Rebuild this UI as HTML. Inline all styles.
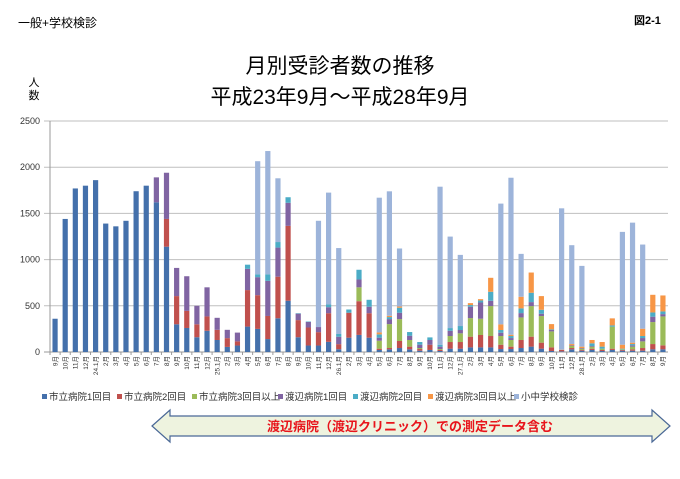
<!DOCTYPE html>
<html><head><meta charset="utf-8"><style>
body{margin:0;background:#fff;font-family:"Liberation Sans","Noto Sans CJK JP",sans-serif;}
svg text{font-family:"Liberation Sans","Noto Sans CJK JP",sans-serif;}
</style></head><body>
<svg id="chart" width="680" height="474" viewBox="0 0 680 474" xmlns="http://www.w3.org/2000/svg">
<text x="18" y="27" font-size="12">一般+学校検診</text>
<text x="634" y="24" font-size="11" font-weight="bold">図2-1</text>
<text x="340" y="73" font-size="21" text-anchor="middle">月別受診者数の推移</text>
<text x="340" y="104" font-size="21" text-anchor="middle">平成23年9月～平成28年9月</text>
<text x="34" y="86" font-size="11" text-anchor="middle">人</text>
<text x="34" y="99" font-size="11" text-anchor="middle">数</text>
<g id="grid"></g><g id="bars"></g><g id="xlabels"></g>
<g id="legend"></g>
<g>
<polygon points="152,426 170,410 170,416 652,416 652,410 670,426 652,442 652,436 170,436 170,442" fill="#eef3df" stroke="#4a6896" stroke-width="1.2"/>
<text x="410" y="431" font-size="13" font-weight="bold" fill="#e8141b" text-anchor="middle">渡辺病院（渡辺クリニック）での測定データ含む</text>
</g>
</svg>
<script>
const categories=["9月","10月","11月","12月","H24.1月","2月","3月","4月","5月","6月","7月","8月","9月","10月","11月","12月","H25.1月","2月","3月","4月","5月","6月","7月","8月","9月","10月","11月","12月","H26.1月","2月","3月","4月","5月","6月","7月","8月","9月","10月","11月","12月","H27.1月","2月","3月","4月","5月","6月","7月","8月","9月","10月","11月","12月","H28.1月","2月","3月","4月","5月","6月","7月","8月","9月"];
const s1=[360,1440,1770,1800,1860,1390,1360,1420,1740,1800,1620,1140,300,260,160,230,130,55,70,275,250,140,365,555,160,70,70,110,30,155,185,155,22,29,43,29,14,22,11,36,36,50,50,50,32,32,43,58,36,11,7,29,14,22,11,22,14,14,14,29,29];
const s2=[0,0,0,0,0,0,0,0,0,0,0,300,305,185,140,155,110,95,45,395,365,250,450,810,185,195,145,310,55,270,365,265,14,14,76,29,18,57,11,72,72,116,134,123,47,26,87,108,65,39,15,14,8,14,11,14,8,15,29,57,43];
const s3=[0,0,0,0,0,0,0,0,0,0,0,0,0,0,0,0,0,0,0,0,0,0,0,0,0,0,0,0,0,0,150,0,86,259,237,72,11,0,10,65,94,201,176,324,94,72,244,331,288,173,0,22,14,22,14,238,7,29,72,238,313];
const s4=[0,0,0,0,0,0,0,0,0,0,270,500,305,375,200,315,130,90,95,230,195,380,315,250,70,60,55,65,80,0,85,70,33,54,69,46,36,51,26,57,36,123,176,57,36,21,47,43,25,15,0,7,7,7,0,0,0,14,36,58,25];
const s5=[0,0,0,0,0,0,0,0,0,0,0,0,0,0,0,0,0,0,0,45,30,70,60,60,5,5,0,30,30,35,105,75,36,22,54,40,29,28,21,29,43,18,22,98,29,22,51,101,43,7,0,0,0,29,22,14,7,14,22,46,29];
const s6=[0,0,0,0,0,0,0,0,0,0,0,0,0,0,0,0,0,0,0,0,0,0,0,0,0,0,0,0,0,0,0,0,21,14,14,0,0,0,0,0,0,21,14,151,61,14,126,219,148,57,3,14,15,36,50,76,43,15,79,191,173];
const s7=[0,0,0,0,0,0,0,0,0,0,0,0,0,0,0,0,0,0,0,0,1225,1335,690,0,0,0,1150,1210,930,0,0,0,1458,1347,627,0,0,0,1710,990,770,0,0,0,1307,1699,464,0,0,0,1530,1070,874,0,0,0,1221,1299,911,0,0];
const seriesNames=["市立病院1回目","市立病院2回目","市立病院3回目以上","渡辺病院1回目","渡辺病院2回目","渡辺病院3回目以上","小中学校検診"];
const yTicks=[0,500,1000,1500,2000,2500];
const colors=["#4470ab","#c0504d","#9bbb59","#8064a2","#4bacc6","#f79646","#9db4da"];
const series=[s1,s2,s3,s4,s5,s6,s7];
const NS="http://www.w3.org/2000/svg";
const L=50,R=668,T=121,B=352,yMax=2500;
const bw=(R-L)/categories.length;
function y(v){return B-(v/yMax)*(B-T);}
function x(i){return L+bw*(i+0.5);}
function mk(t,a,p){const e=document.createElementNS(NS,t);for(const k in a)e.setAttribute(k,a[k]);p.appendChild(e);return e;}
const grid=document.getElementById('grid');
yTicks.forEach(v=>{
 const l=mk('line',{x1:44,x2:R,y1:y(v),y2:y(v),stroke:v===0?'#999':'#bfbfbf','stroke-width':1},grid);
 
 
 const t=mk('text',{x:40,y:y(v)+3,'font-size':9,'text-anchor':'end',fill:'#333'},grid);
 t.textContent=v;
 
 
});
const ax=mk('line',{x1:L,x2:L,y1:T,y2:B,stroke:'#999'},grid);


const bars=document.getElementById('bars');
const xl=document.getElementById('xlabels');
categories.forEach((c,i)=>{
 let acc=0;
 series.forEach((s,k)=>{
  const v=s[i]; if(!v)return;
  const r=mk('rect',{x:x(i)-2.6,width:5.2,y:y(acc+v),height:y(acc)-y(acc+v),fill:colors[k]},bars);
  
  
  acc+=v;
 });
 const tk=mk('line',{x1:L+bw*i,x2:L+bw*i,y1:B,y2:B+3,stroke:'#999'},grid);
 
 
 const t=mk('text',{x:0,y:0,'font-size':6.5,'text-anchor':'end',fill:'#333',transform:`translate(${x(i)+2.3},${B+4}) rotate(-90)`},xl);
 t.textContent=c.replace('H','');
 
 
});
const lg=document.getElementById('legend');
let lx=42;
const widths=[75,75,86,75,75,86,70];
seriesNames.forEach((n,k)=>{
 const r=mk('rect',{x:lx,y:394,width:5,height:5,fill:colors[k]},lg);
 
 
 const t=mk('text',{x:lx+7,y:400,'font-size':9.5,fill:'#333'},lg);
 t.textContent=n;
 
 
 lx+=widths[k];
});
</script>
</body></html>
